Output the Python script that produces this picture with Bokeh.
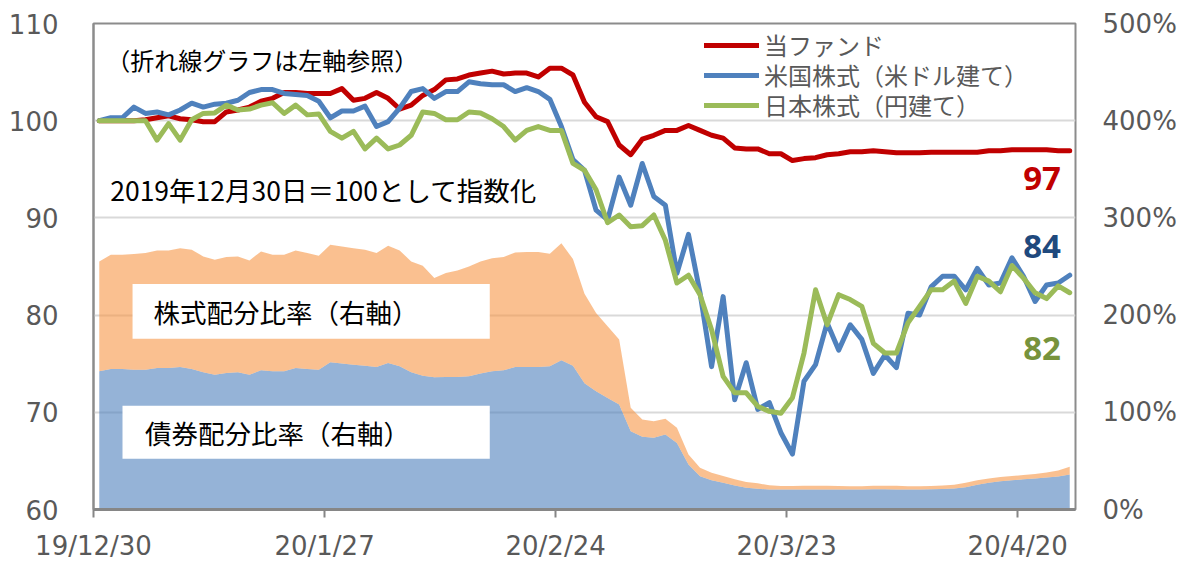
import numpy as np
import pandas as pd
from bokeh.plotting import figure
from bokeh.models import (Range1d, LinearAxis, FixedTicker, PrintfTickFormatter, Label,
                          BoxAnnotation, Legend, LegendItem)
from bokeh.embed import file_html
from bokeh.resources import INLINE

# ---------------- data ----------------
dates = pd.bdate_range("2019-12-30", "2020-04-24")
tick_labels = ["19/12/30", "20/1/27", "20/2/24", "20/3/23", "20/4/20"]
series_names = ["当ファンド", "米国株式（米ドル建て）", "日本株式（円建て）"]
area_names = ["株式配分比率（右軸）", "債券配分比率（右軸）"]

fund = [100.0, 100.0, 100.0, 100.0, 100.1, 100.3, 100.5, 100.2, 100.1, 99.9,
        99.9, 100.9, 101.1, 101.4, 102.0, 102.3, 102.9, 102.9, 102.8, 102.8,
        102.8, 103.3, 102.1, 102.3, 102.9, 102.3, 101.2, 101.6, 102.6, 103.2,
        104.2, 104.3, 104.7, 104.9, 105.1, 104.8, 104.9, 104.9, 104.5, 105.4,
        105.4, 104.7, 101.9, 100.4, 99.9, 97.5, 96.5, 98.1, 98.5, 99.0,
        99.0, 99.5, 99.0, 98.5, 98.2, 97.2, 97.1, 97.1, 96.6, 96.6,
        95.9, 96.1, 96.2, 96.5, 96.6, 96.8, 96.8, 96.9, 96.8, 96.7,
        96.7, 96.7, 96.75, 96.75, 96.75, 96.75, 96.75, 96.9, 96.9, 97.0,
        97.0, 97.0, 97.0, 96.9, 96.9]

us_equity = [100.0, 100.3, 100.3, 101.4, 100.75, 100.9, 100.6, 101.1, 101.8, 101.4,
             101.7, 101.8, 102.1, 102.9, 103.2, 103.2, 102.8, 102.7, 102.6, 102.0,
             100.3, 101.0, 101.0, 101.5, 99.4, 99.9, 101.3, 103.0, 103.3, 102.3,
             103.0, 103.0, 104.0, 103.8, 103.7, 103.7, 103.0, 103.4, 103.0, 102.2,
             99.4, 96.0, 94.9, 90.8, 89.8, 94.2, 91.3, 95.6, 92.2, 91.3,
             84.3, 88.3, 82.3, 74.7, 81.9, 71.3, 75.1, 70.3, 71.0, 67.9,
             65.7, 73.2, 74.9, 79.2, 76.4, 79.0, 77.5, 74.0, 75.9, 74.6,
             80.2, 80.0, 82.9, 84.0, 84.0, 82.6, 84.8, 83.1, 83.3, 85.9,
             84.0, 81.4, 83.1, 83.3, 84.1]

jp_equity = [100.0, 100.0, 100.0, 100.0, 100.0, 98.0, 99.7, 98.0, 100.1, 100.75,
             100.8, 101.6, 101.1, 101.2, 101.6, 101.85, 100.75, 101.6, 100.6, 100.7,
             98.9, 98.2, 98.9, 97.1, 98.2, 97.1, 97.5, 98.5, 100.9, 100.75,
             100.1, 100.1, 100.9, 100.8, 100.2, 99.4, 98.0, 99.0, 99.4, 99.0,
             99.0, 95.6, 94.9, 92.9, 89.5, 90.3, 89.1, 89.2, 90.3, 87.7,
             83.3, 84.1, 82.1, 78.5, 73.7, 72.0, 72.0, 70.6, 70.1, 69.9,
             71.5, 76.1, 82.6, 79.0, 82.1, 81.6, 80.9, 77.1, 76.1, 76.1,
             79.2, 80.9, 82.6, 82.6, 83.5, 81.2, 84.0, 83.5, 82.4, 85.1,
             83.8, 82.3, 81.7, 83.0, 82.3]

# allocation ratios in percent (right axis)
bond_ratio = [142.2, 144.6, 144.6, 143.9, 143.9, 145.6, 145.6, 146.6, 144.6, 141.1,
              138.7, 140.5, 141.1, 138.7, 143.2, 142.2, 142.2, 145.6, 144.6, 143.9,
              151.4, 150.1, 149.0, 148.0, 146.6, 150.7, 147.3, 141.1, 137.7, 136.0,
              136.4, 136.4, 137.0, 139.8, 142.2, 143.2, 146.6, 146.6, 146.6, 147.3,
              153.5, 148.0, 130.0, 121.6, 114.8, 108.0, 80.6, 74.8, 73.7, 77.1,
              68.5, 46.3, 34.3, 30.2, 27.4, 24.7, 22.3, 21.3, 20.6, 20.6,
              20.6, 20.6, 20.6, 20.6, 20.6, 20.6, 20.6, 20.8, 20.8, 20.6,
              20.6, 20.6, 20.8, 21.2, 21.5, 23.0, 25.5, 27.5, 29.0, 30.0,
              31.0, 32.0, 33.0, 34.0, 36.0]

stock_ratio = [113.0, 117.5, 117.5, 118.9, 119.9, 120.9, 120.9, 122.3, 122.6, 119.3,
               118.3, 119.2, 119.3, 117.6, 122.3, 119.9, 119.9, 120.9, 119.2, 117.2,
               120.9, 120.5, 119.9, 119.2, 117.2, 120.6, 119.2, 114.1, 113.1, 102.1,
               106.9, 109.6, 113.1, 115.4, 116.4, 116.5, 117.9, 118.2, 118.2, 115.8,
               120.5, 109.6, 92.0, 80.6, 73.7, 66.8, 24.0, 17.8, 17.2, 16.2,
               15.6, 10.4, 8.7, 7.7, 7.1, 6.3, 6.0, 5.6, 4.3, 3.6,
               3.6, 3.9, 3.9, 3.9, 3.6, 3.4, 3.4, 3.7, 3.7, 3.9,
               3.4, 3.4, 3.5, 3.6, 4.0, 4.5, 4.5, 4.5, 4.5, 4.5,
               4.5, 4.5, 5.0, 6.0, 8.0]

# ---------------- figure ----------------
n = len(fund)
x = np.arange(n) + 0.5
bond = np.array(bond_ratio)
total = bond + np.array(stock_ratio)

date_labels = [f"{d:%y}/{d.month}/{d.day}" for d in dates]
tick_idx = [i for i, lab in enumerate(date_labels) if lab in tick_labels]

GRAY_TXT = "#595959"
AX_FONT = "DejaVu Sans"
JP_FONT = "Noto Sans CJK JP"

p = figure(width=1186, height=564, x_range=Range1d(0, n), y_range=Range1d(60, 110),
           output_backend="svg", toolbar_location=None,
           min_border_left=93, min_border_right=111, min_border_top=23, min_border_bottom=55)
p.background_fill_color = "white"
p.border_fill_color = "white"
p.outline_line_color = "#8C8C8C"
p.outline_line_width = 2

p.extra_y_ranges = {"pct": Range1d(0, 500)}

# areas (right axis)
p.varea(x=x, y1=0, y2=bond, y_range_name="pct", fill_color="#4F81BD", fill_alpha=0.6)
p.varea(x=x, y1=bond, y2=total, y_range_name="pct", fill_color="#F79646", fill_alpha=0.6)

# lines (left axis)
r_fund = p.line(x, fund, line_color="#C00000", line_width=5, line_join="round", line_cap="round")
r_us = p.line(x, us_equity, line_color="#4F81BD", line_width=5, line_join="round", line_cap="round")
r_jp = p.line(x, jp_equity, line_color="#9BBB59", line_width=5, line_join="round", line_cap="round")

# axes
yax = p.yaxis[0]
yax.ticker = FixedTicker(ticks=[60, 70, 80, 90, 100, 110])
yax.axis_line_color = "#8C8C8C"
yax.axis_line_width = 2
yax.major_tick_out = 0
yax.major_tick_in = 0
yax.minor_tick_out = 0
yax.minor_tick_in = 0
yax.major_label_standoff = 35
yax.major_label_text_font = AX_FONT
yax.major_label_text_font_size = "26px"
yax.major_label_text_color = GRAY_TXT

xax = p.xaxis[0]
xax.ticker = FixedTicker(ticks=tick_idx)
xax.major_label_overrides = {i: date_labels[i] for i in tick_idx}
xax.axis_line_color = "#868686"
xax.axis_line_width = 3
xax.major_tick_out = 8
xax.major_tick_in = 0
xax.major_tick_line_color = "#868686"
xax.major_tick_line_width = 2
xax.minor_tick_out = 0
xax.minor_tick_in = 0
xax.major_label_standoff = 13
xax.major_label_text_font = AX_FONT
xax.major_label_text_font_size = "26px"
xax.major_label_text_color = GRAY_TXT

rax = LinearAxis(y_range_name="pct", ticker=FixedTicker(ticks=[0, 100, 200, 300, 400, 500]),
                 formatter=PrintfTickFormatter(format="%d%%"))
rax.axis_line_color = None
rax.major_tick_out = 0
rax.major_tick_in = 0
rax.minor_tick_out = 0
rax.minor_tick_in = 0
rax.major_label_standoff = 27
rax.major_label_text_font = AX_FONT
rax.major_label_text_font_size = "26px"
rax.major_label_text_color = GRAY_TXT
p.add_layout(rax, "right")

p.xgrid.visible = False
p.ygrid.ticker = FixedTicker(ticks=[70, 80, 90, 100])
p.ygrid.grid_line_color = "#D9D9D9"
p.ygrid.grid_line_width = 2

# white boxes for the area captions
p.add_layout(BoxAnnotation(left=3.38, right=34.3, top=83.2, bottom=77.57,
                           fill_color="white", fill_alpha=1.0, line_color=None))
p.add_layout(BoxAnnotation(left=2.51, right=34.3, top=70.68, bottom=65.23,
                           fill_color="white", fill_alpha=1.0, line_color=None))

def add_label(xv, yv, text, size, color="black", font=JP_FONT, align="left", style="normal"):
    p.add_layout(Label(x=xv, y=yv, text=text, text_font=font, text_font_size=size,
                       text_color=color, text_align=align, text_baseline="middle",
                       text_font_style=style))

add_label(5.2, 80.4, area_names[0], "26.5px")
add_label(4.45, 67.95, area_names[1], "26.5px")
add_label(1.1, 106.3, "（折れ線グラフは左軸参照）", "24px")
add_label(1.45, 92.88, "2019年12月30日＝100として指数化", "26.5px")

add_label(82.1, 94.06, f"{round(fund[-1])}", "33px", color="#C00000", font="Open Sans", align="center", style="bold")
add_label(82.1, 87.07, f"{round(us_equity[-1])}", "33px", color="#1F497D", font="Open Sans", align="center", style="bold")
add_label(82.1, 76.59, f"{round(jp_equity[-1])}", "33px", color="#77933C", font="Open Sans", align="center", style="bold")

# legend: one entry per row, placed at the reference's row positions (frame px from bottom)
legend_rows = [447, 417, 387]
for name, rend, vy in zip(series_names, [r_fund, r_us, r_jp], legend_rows):
    lg = Legend(items=[LegendItem(label=name, renderers=[rend])], location=(611, vy))
    lg.label_text_font = JP_FONT
    lg.label_text_font_size = "24px"
    lg.label_text_color = GRAY_TXT
    lg.glyph_width = 55
    lg.glyph_height = 20
    lg.label_height = 20
    lg.spacing = 0
    lg.padding = 0
    lg.margin = 0
    lg.label_standoff = 5
    lg.border_line_color = None
    lg.background_fill_alpha = 0
    p.add_layout(lg)

open("out.html", "w").write(file_html(p, INLINE))
